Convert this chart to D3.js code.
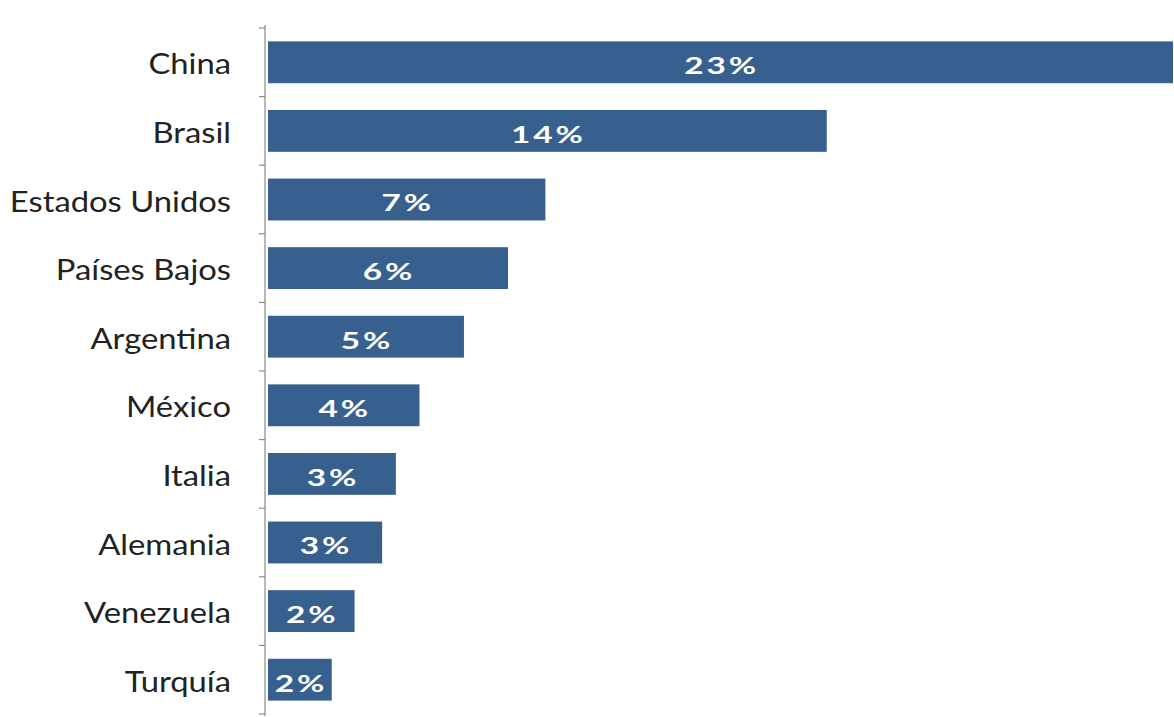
<!DOCTYPE html>
<html>
<head>
<meta charset="utf-8">
<script src="https://cdn.jsdelivr.net/npm/d3@7"></script>
<style>
  html, body { margin: 0; padding: 0; background: #ffffff; }
  svg { display: block; }
</style>
</head>
<body>
<svg id="chart" width="1174" height="717"></svg>
<script>
// Share of exports by destination country (percent)
const countries = ["China", "Brasil", "Estados Unidos", "Países Bajos", "Argentina",
                   "México", "Italia", "Alemania", "Venezuela", "Turquía"];
const shares = [23.0, 14.2, 7.05, 6.1, 4.98, 3.85, 3.25, 2.9, 2.2, 1.62];

const axisX = 265, barX0 = 268;
const plotTop = 28, plotBottom = 714;

const svg = d3.select("#chart");

const y = d3.scaleBand()
  .domain(countries)
  .range([plotTop, plotBottom])
  .paddingInner(0.39)
  .paddingOuter(0.195);

const x = d3.scaleLinear()
  .domain([0, 23.0])
  .range([barX0, 1173]);

const step = y.step();
const catStretch = 1.17, valStretch = 1.45;

// bars
svg.append("g")
  .selectAll("rect")
  .data(countries)
  .join("rect")
  .attr("x", x(0))
  .attr("y", d => y(d))
  .attr("width", (d, i) => x(shares[i]) - x(0))
  .attr("height", y.bandwidth())
  .attr("fill", "#37608f");

// vertical category axis with tick marks at band boundaries
const axisG = svg.append("g").attr("stroke", "#8a8a8a").attr("stroke-width", 1.2);
axisG.append("line")
  .attr("x1", axisX).attr("x2", axisX)
  .attr("y1", plotTop - 3).attr("y2", plotBottom + 2);
const boundaries = d3.range(countries.length + 1).map(i => plotTop + i * step);
axisG.selectAll("line.tick")
  .data(boundaries)
  .join("line")
  .attr("class", "tick")
  .attr("x1", axisX - 6).attr("x2", axisX)
  .attr("y1", d => d).attr("y2", d => d);

// category labels
svg.append("g")
  .selectAll("text")
  .data(countries)
  .join("text")
  .attr("transform", d => `translate(231,${y(d) + y.bandwidth() / 2 + 1}) scale(${catStretch},1)`)
  .attr("text-anchor", "end")
  .attr("dominant-baseline", "central")
  .attr("font-family", "Lato, 'Open Sans', sans-serif")
  .attr("font-size", 28)
  .attr("fill", "#222222")
  .text(d => d);

// value labels inside bars
const fmt = v => Math.round(v) + "%";
svg.append("g")
  .selectAll("text")
  .data(countries)
  .join("text")
  .attr("transform", (d, i) => `translate(${(x(0) + x(shares[i])) / 2 + 1},${y(d) + y.bandwidth() / 2 + 3}) scale(${valStretch},1)`)
  .attr("text-anchor", "middle")
  .attr("dominant-baseline", "central")
  .attr("font-family", "Lato, 'Open Sans', sans-serif")
  .attr("font-weight", "bold")
  .attr("font-size", 23)
  .attr("letter-spacing", 2)
  .attr("fill", "#ffffff")
  .text((d, i) => fmt(shares[i]));
</script>
</body>
</html>
